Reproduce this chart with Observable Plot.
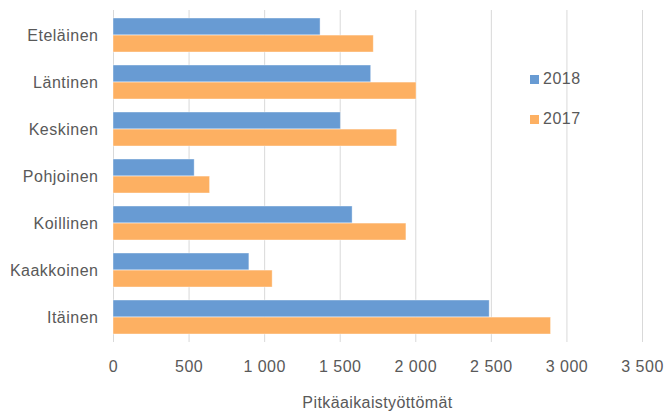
<!DOCTYPE html>
<html>
<head>
<meta charset="utf-8">
<script src="https://cdn.jsdelivr.net/npm/d3@7"></script>
<script src="https://cdn.jsdelivr.net/npm/@observablehq/plot@0.6"></script>
<style>
  html, body { margin: 0; padding: 0; background: #fff; }
  #wrap { position: relative; width: 667px; height: 417px; font-family: "Liberation Sans", Arial, sans-serif; }
  #wrap svg text { letter-spacing: 0.5px; }
  #legend { position: absolute; left: 530px; top: 69px; color: #595959; font-size: 16px; }
  .item { display: flex; align-items: center; height: 20px; margin-bottom: 20px; letter-spacing: 0.5px; }
  .sw { width: 9px; height: 9px; margin-right: 4px; }
  #xlabel { position: absolute; left: 113px; width: 529px; top: 394px; text-align: center; color: #595959; font-size: 16px; letter-spacing: 0.4px; }
</style>
</head>
<body>
<div id="wrap"></div>
<script>
const regions = ["Eteläinen", "Läntinen", "Keskinen", "Pohjoinen", "Koillinen", "Kaakkoinen", "Itäinen"];
const years = ["2018", "2017"];
const v2018 = [1370, 1705, 1504, 537, 1582, 899, 2489];
const v2017 = [1722, 2005, 1877, 639, 1938, 1053, 2895];
const xTicks = [0, 500, 1000, 1500, 2000, 2500, 3000, 3500];
const colors = ["#689BD3", "#FDB062"];
const xLabel = "Pitkäaikaistyöttömät";

const d2018 = regions.map((r, i) => ({region: r, year: "2018", value: v2018[i]}));
const d2017 = regions.map((r, i) => ({region: r, year: "2017", value: v2017[i]}));

const fmt = d3.formatLocale({decimal: ",", thousands: "\u00a0", grouping: [3]}).format(",");

const W = 667, H = 417, mt = 10, mb = 75, ml = 113, mr = 25;
const pad = 0.28;
const bw = (H - mt - mb) / regions.length * (1 - pad);

const chart = Plot.plot({
  width: W, height: H,
  marginTop: mt, marginBottom: mb, marginLeft: ml, marginRight: mr,
  style: {fontFamily: "'Liberation Sans', Arial, sans-serif", fontSize: "16px", color: "#595959", background: "#fff"},
  x: {domain: [0, 3500], ticks: xTicks, tickFormat: fmt, tickSize: 0, tickPadding: 18, label: null},
  y: {domain: regions, paddingInner: pad, paddingOuter: pad / 2, tickSize: 0, tickPadding: 15, label: null},
  marks: [
    Plot.ruleX(xTicks, {stroke: "#d9d9d9", strokeWidth: 1}),
    Plot.barX(d2018, {x: "value", y: "region", fill: colors[0], insetBottom: bw / 2, stroke: "#fff", strokeOpacity: 0.5, strokeWidth: 0.8}),
    Plot.barX(d2017, {x: "value", y: "region", fill: colors[1], insetTop: bw / 2, stroke: "#fff", strokeOpacity: 0.5, strokeWidth: 0.8})
  ]
});

const wrap = document.getElementById("wrap");
wrap.appendChild(chart);
const legend = document.createElement("div");
legend.id = "legend";
years.forEach((y, i) => {
  const it = document.createElement("div");
  it.className = "item";
  it.innerHTML = `<span class="sw" style="background:${colors[i]}"></span><span>${y}</span>`;
  legend.appendChild(it);
});
wrap.appendChild(legend);
const xl = document.createElement("div");
xl.id = "xlabel";
xl.textContent = xLabel;
wrap.appendChild(xl);
</script>
</body>
</html>
